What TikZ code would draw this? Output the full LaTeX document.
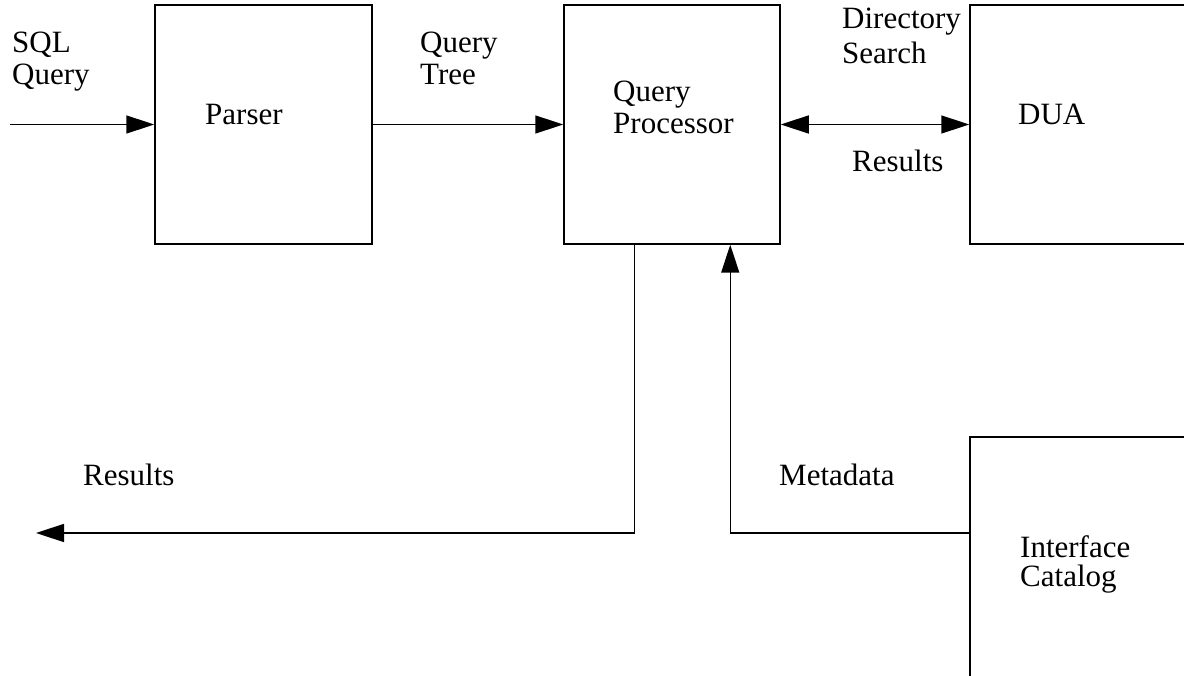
\documentclass[tikz,border=0pt]{standalone}
\usepackage{fontspec}
\setmainfont{Liberation Serif}
\usetikzlibrary{arrows.meta}
\tikzset{
  box/.style={draw, line width=1.5pt, rectangle, inner sep=0pt},
  lbl/.style={anchor=base west, inner sep=0pt, font=\fontsize{31}{32}\selectfont},
  arr/.style={line width=1.5pt, -{Triangle[length=28pt,width=18pt]}},
  arrtwo/.style={line width=1.5pt, {Triangle[length=28pt,width=18pt]}-{Triangle[length=28pt,width=18pt]}}
}
\newcommand{\twol}[3][0pt]{\begin{tabular}[t]{@{}l@{}}#2\\[#1]#3\end{tabular}}
\begin{document}
\begin{tikzpicture}[x=1pt,y=-1pt]
\useasboundingbox (0,0) rectangle (1184,676);
\clip (0,0) rectangle (1184,676);
% boxes
\node[box, minimum width=217pt, minimum height=239pt] (parser) at (263.5,124.5) {};
\node[box, minimum width=216pt, minimum height=239pt] (qp) at (672,124.5) {};
\node[box, minimum width=400pt, minimum height=239pt] (dua) at (1170,124.5) {};
\node[box, minimum width=400pt, minimum height=400pt] (cat) at (1170,637) {};
% labels
\node[lbl] (tsql) at (12,53) {\twol{SQL}{Query}};
\node[lbl] (tparser) at (205,125) {Parser};
\node[lbl] (ttree) at (420,53) {\twol{Query}{Tree}};
\node[lbl] (tqp) at (613,102) {\twol{Query}{Processor}};
\node[lbl] (tdir) at (842,29) {\twol[3pt]{Directory}{Search}};
\node[lbl] (tdua) at (1018,125) {DUA};
\node[lbl] (tres1) at (852,172) {Results};
\node[lbl] (tres2) at (83,485) {Results};
\node[lbl] (tmeta) at (779,485) {Metadata};
\node[lbl] (tcat) at (1020,557) {\twol[-3pt]{Interface}{Catalog}};
% connectors
\coordinate (in) at (10,124.5);
\coordinate (out) at (36,533);
\draw[arr] (in) -- (parser.west);
\draw[arr] (parser.east) -- (qp.west);
\draw[arrtwo] (qp.east) -- (dua.west);
\draw[arr] ([xshift=71pt]qp.south west) |- (out);
\draw[arr] (cat.west |- out) -| ([xshift=167pt]qp.south west);
\end{tikzpicture}
\end{document}
